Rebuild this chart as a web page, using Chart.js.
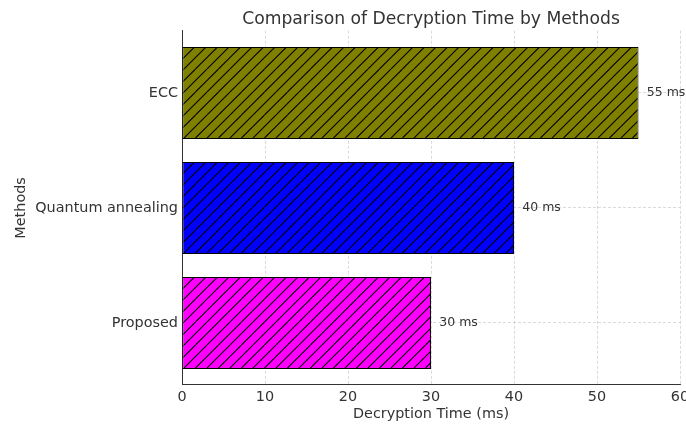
<!DOCTYPE html>
<html>
<head>
<meta charset="utf-8">
<script src="https://cdn.jsdelivr.net/npm/chart.js@4"></script>
<style>
  html, body { margin: 0; padding: 0; background: #fff; }
  #wrap { width: 686px; height: 427px; }
</style>
</head>
<body>
<div id="wrap"><canvas id="chart" width="686" height="427"></canvas></div>
<script>
// Decryption time per method (ms)
const methods = ['ECC', 'Quantum annealing', 'Proposed'];
const decryptionTimes = [55, 40, 30];
const barColors = ['#808000', '#0000ff', '#ff00ff'];
const xTicks = [0, 10, 20, 30, 40, 50, 60];

const FONT = 'DejaVu Sans';
const TEXT = '#333333';

// Solid fill with diagonal "/" hatching on top
function hatchPattern(color) {
  const size = 23, step = size / 2;
  const c = document.createElement('canvas');
  c.width = size; c.height = size;
  const g = c.getContext('2d');
  g.fillStyle = color;
  g.fillRect(0, 0, size, size);
  g.strokeStyle = '#000';
  g.lineWidth = 1.1;
  g.beginPath();
  for (let k = -2; k <= 2; k++) {
    g.moveTo(k * step, size);
    g.lineTo(k * step + size, 0);
  }
  g.stroke();
  return g.createPattern(c, 'repeat');
}

const points = methods.map((m, i) => ({ x: decryptionTimes[i], y: i }));

// Value labels to the right of each bar
const valueLabels = {
  id: 'valueLabels',
  afterDraw(chart) {
    const { ctx } = chart;
    const xs = chart.scales.x;
    const meta = chart.getDatasetMeta(0);
    ctx.save();
    ctx.font = '12.5px "' + FONT + '"';
    ctx.fillStyle = TEXT;
    ctx.textAlign = 'left';
    ctx.textBaseline = 'middle';
    meta.data.forEach((bar, i) => {
      const v = decryptionTimes[i];
      ctx.fillText(v + ' ms', xs.getPixelForValue(v + 1), bar.y);
    });
    ctx.restore();
  }
};

const gridStyle = {
  color: 'rgba(170,170,170,0.55)',
  lineWidth: 0.8,
  drawTicks: false,
  offset: false
};

new Chart(document.getElementById('chart'), {
  type: 'bar',
  data: {
    datasets: [{
      data: points,
      backgroundColor: barColors.map(hatchPattern),
      borderColor: '#000',
      borderWidth: 1,
      borderSkipped: false,
      barPercentage: 0.8,
      categoryPercentage: 1.0
    }]
  },
  options: {
    indexAxis: 'y',
    responsive: false,
    animation: false,
    devicePixelRatio: 1,
    layout: { padding: { left: 0, right: 6, top: 0, bottom: 0 } },
    plugins: {
      legend: { display: false },
      tooltip: { enabled: false },
      title: {
        display: true,
        fullSize: false,
        text: 'Comparison of Decryption Time by Methods',
        color: TEXT,
        font: { family: FONT, size: 17.2, weight: 'normal' },
        padding: { top: 9, bottom: 1.2 }
      }
    },
    scales: {
      x: {
        type: 'linear',
        min: 0,
        max: 60,
        z: 1,
        offset: false,
        afterBuildTicks(s) { s.ticks = xTicks.map(v => ({ value: v })); },
        afterFit(s) { s.height = 42; s.paddingLeft = 0; s.paddingRight = 0; },
        ticks: { color: TEXT, font: { family: FONT, size: 14.4 }, padding: 4, maxRotation: 0 },
        grid: gridStyle,
        border: { display: true, color: '#333', width: 1, dash: [3, 2] },
        title: {
          display: true,
          text: 'Decryption Time (ms)',
          color: TEXT,
          font: { family: FONT, size: 14.4 },
          padding: { top: 0, bottom: 4.4 }
        }
      },
      y: {
        type: 'linear',
        min: -0.54,
        max: 2.54,
        reverse: true,
        z: 1,
        offset: false,
        afterBuildTicks(s) { s.ticks = methods.map((m, i) => ({ value: i })); },
        afterFit(s) { s.width = 182; s.paddingTop = 0; s.paddingBottom = 0; },
        ticks: {
          color: TEXT,
          font: { family: FONT, size: 14.4 },
          padding: 4,
          callback: (v) => methods[v]
        },
        grid: gridStyle,
        border: { display: true, color: '#333', width: 1, dash: [3, 2] },
        title: {
          display: true,
          text: 'Methods',
          color: TEXT,
          font: { family: FONT, size: 14.4 },
          padding: { top: 12.4, bottom: 0 }
        }
      }
    }
  },
  plugins: [valueLabels]
});
</script>
</body>
</html>
